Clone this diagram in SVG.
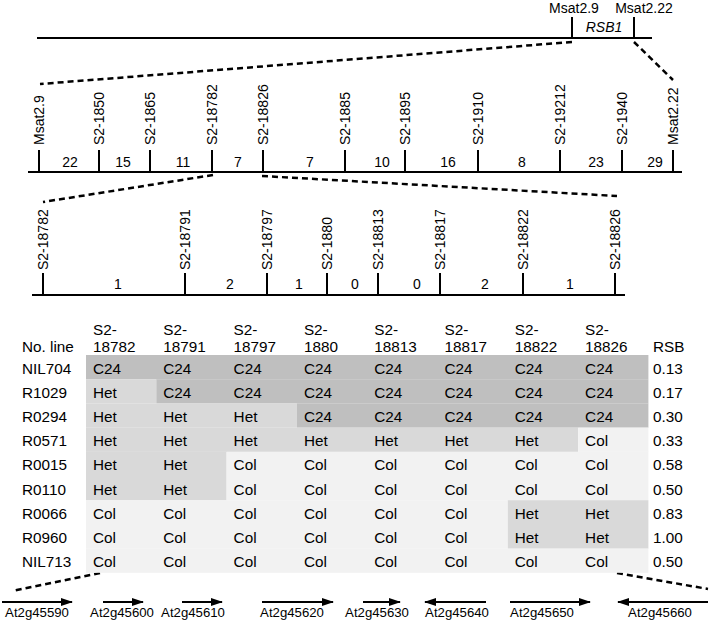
<svg xmlns="http://www.w3.org/2000/svg" width="711" height="629" viewBox="0 0 711 629">
<defs>
<style>
text{font-family:"Liberation Sans",Arial,sans-serif;fill:#000}
.lbl{font-size:14px}
.num{font-size:14px;text-anchor:middle}
.tb{font-size:15.3px}
.gene{font-size:13.2px;text-anchor:middle}
.ln{stroke:#000;stroke-width:2;fill:none}
.dash{stroke:#000;stroke-width:2.5;stroke-dasharray:6 4;fill:none}
.c24{fill:#bfbfbf}
.het{fill:#d9d9d9}
.col{fill:#f2f2f2}
.arr{stroke:#000;stroke-width:2;fill:none}
</style>
<marker id="ah" viewBox="0 0 12 8" refX="11" refY="4" markerWidth="6" markerHeight="4" orient="auto" markerUnits="strokeWidth">
<path d="M0,0 L12,4 L0,8 Z" fill="#000"/>
</marker>
</defs>
<rect width="711" height="629" fill="#fff"/>

<g id="chromosome">
<line class="ln" x1="37" y1="38" x2="652" y2="38"/>
<line class="ln" x1="572" y1="17" x2="572" y2="38"/>
<line class="ln" x1="634" y1="17" x2="634" y2="38"/>
<text class="lbl" x="574" y="13" text-anchor="middle">Msat2.9</text>
<text class="lbl" x="644" y="13" text-anchor="middle">Msat2.22</text>
<text class="lbl" x="604" y="32" text-anchor="middle" font-style="italic">RSB1</text>
</g>

<g id="map1">
<line class="ln" x1="28" y1="172" x2="682" y2="172"/>
<path class="ln" d="M39,150V172M99,150V172M150,150V172M212,150V172M263,150V172M345,150V172M405,150V172M478,150V172M560,150V172M622,150V172M673,150V172"/>
<text class="lbl" transform="translate(44,145) rotate(-90)">Msat2.9</text>
<text class="lbl" transform="translate(104,145) rotate(-90)">S2-1850</text>
<text class="lbl" transform="translate(155,145) rotate(-90)">S2-1865</text>
<text class="lbl" transform="translate(217,145) rotate(-90)">S2-18782</text>
<text class="lbl" transform="translate(268,145) rotate(-90)">S2-18826</text>
<text class="lbl" transform="translate(350,145) rotate(-90)">S2-1885</text>
<text class="lbl" transform="translate(410,145) rotate(-90)">S2-1895</text>
<text class="lbl" transform="translate(483,145) rotate(-90)">S2-1910</text>
<text class="lbl" transform="translate(565,145) rotate(-90)">S2-19212</text>
<text class="lbl" transform="translate(627,145) rotate(-90)">S2-1940</text>
<text class="lbl" transform="translate(678,145) rotate(-90)">Msat2.22</text>
<text class="num" x="70" y="167">22</text>
<text class="num" x="123" y="167">15</text>
<text class="num" x="183" y="167">11</text>
<text class="num" x="238" y="167">7</text>
<text class="num" x="310" y="167">7</text>
<text class="num" x="382" y="167">10</text>
<text class="num" x="448" y="167">16</text>
<text class="num" x="522" y="167">8</text>
<text class="num" x="596" y="167">23</text>
<text class="num" x="655" y="167">29</text>
</g>

<g id="map2">
<line class="ln" x1="32" y1="295" x2="625" y2="295"/>
<path class="ln" d="M43,273V295M185,273V295M267,273V295M327,273V295M378,273V295M440,273V295M523,273V295M615,273V295"/>
<text class="lbl" transform="translate(48,270) rotate(-90)">S2-18782</text>
<text class="lbl" transform="translate(190,270) rotate(-90)">S2-18791</text>
<text class="lbl" transform="translate(272,270) rotate(-90)">S2-18797</text>
<text class="lbl" transform="translate(332,270) rotate(-90)">S2-1880</text>
<text class="lbl" transform="translate(383,270) rotate(-90)">S2-18813</text>
<text class="lbl" transform="translate(445,270) rotate(-90)">S2-18817</text>
<text class="lbl" transform="translate(528,270) rotate(-90)">S2-18822</text>
<text class="lbl" transform="translate(620,270) rotate(-90)">S2-18826</text>
<text class="num" x="118" y="289">1</text>
<text class="num" x="230" y="289">2</text>
<text class="num" x="299" y="289">1</text>
<text class="num" x="355" y="289">0</text>
<text class="num" x="417" y="289">0</text>
<text class="num" x="485" y="289">2</text>
<text class="num" x="570" y="289">1</text>
</g>

<g id="connectors">
<line class="dash" x1="572" y1="42" x2="40" y2="84"/>
<line class="dash" x1="634" y1="42" x2="673" y2="80"/>
<line class="dash" x1="213" y1="175" x2="43" y2="202"/>
<line class="dash" x1="262" y1="176" x2="617" y2="196"/>
<line class="dash" x1="100" y1="573" x2="12" y2="591"/>
<line class="dash" x1="617" y1="573" x2="708" y2="589"/>
</g>

<g id="table">
<g id="shading">
<rect class="c24" x="86" y="355" width="562.4" height="24.3"/>
<rect class="het" x="86" y="379.2" width="70.3" height="24.3"/>
<rect class="c24" x="156.3" y="379.2" width="492.1" height="24.3"/>
<rect class="het" x="86" y="403.4" width="210.9" height="24.3"/>
<rect class="c24" x="296.9" y="403.4" width="351.5" height="24.3"/>
<rect class="het" x="86" y="427.6" width="492.1" height="24.3"/>
<rect class="col" x="578.1" y="427.6" width="70.3" height="24.3"/>
<rect class="het" x="86" y="451.8" width="140.6" height="48.5"/>
<rect class="col" x="226.6" y="451.8" width="421.8" height="48.5"/>
<rect class="col" x="86" y="500.2" width="421.8" height="48.5"/>
<rect class="het" x="507.8" y="500.2" width="140.6" height="48.5"/>
<rect class="col" x="86" y="548.6" width="562.4" height="24.2"/>
</g>
<g id="header" class="tb">
<text class="tb" x="22" y="352">No. line</text>
<text class="tb" x="93" y="335">S2-</text><text class="tb" x="93" y="352">18782</text>
<text class="tb" x="163.3" y="335">S2-</text><text class="tb" x="163.3" y="352">18791</text>
<text class="tb" x="233.6" y="335">S2-</text><text class="tb" x="233.6" y="352">18797</text>
<text class="tb" x="303.9" y="335">S2-</text><text class="tb" x="303.9" y="352">1880</text>
<text class="tb" x="374.2" y="335">S2-</text><text class="tb" x="374.2" y="352">18813</text>
<text class="tb" x="444.5" y="335">S2-</text><text class="tb" x="444.5" y="352">18817</text>
<text class="tb" x="514.8" y="335">S2-</text><text class="tb" x="514.8" y="352">18822</text>
<text class="tb" x="585.1" y="335">S2-</text><text class="tb" x="585.1" y="352">18826</text>
<text class="tb" x="653" y="352">RSB</text>
</g>
<g id="row-NIL704">
<text class="tb" x="22" y="373.5">NIL704</text>
<text class="tb" x="93" y="373.5">C24</text><text class="tb" x="163.3" y="373.5">C24</text><text class="tb" x="233.6" y="373.5">C24</text><text class="tb" x="303.9" y="373.5">C24</text><text class="tb" x="374.2" y="373.5">C24</text><text class="tb" x="444.5" y="373.5">C24</text><text class="tb" x="514.8" y="373.5">C24</text><text class="tb" x="585.1" y="373.5">C24</text>
<text class="tb" x="653" y="373.5">0.13</text>
</g>
<g id="row-R1029">
<text class="tb" x="22" y="397.7">R1029</text>
<text class="tb" x="93" y="397.7">Het</text><text class="tb" x="163.3" y="397.7">C24</text><text class="tb" x="233.6" y="397.7">C24</text><text class="tb" x="303.9" y="397.7">C24</text><text class="tb" x="374.2" y="397.7">C24</text><text class="tb" x="444.5" y="397.7">C24</text><text class="tb" x="514.8" y="397.7">C24</text><text class="tb" x="585.1" y="397.7">C24</text>
<text class="tb" x="653" y="397.7">0.17</text>
</g>
<g id="row-R0294">
<text class="tb" x="22" y="421.9">R0294</text>
<text class="tb" x="93" y="421.9">Het</text><text class="tb" x="163.3" y="421.9">Het</text><text class="tb" x="233.6" y="421.9">Het</text><text class="tb" x="303.9" y="421.9">C24</text><text class="tb" x="374.2" y="421.9">C24</text><text class="tb" x="444.5" y="421.9">C24</text><text class="tb" x="514.8" y="421.9">C24</text><text class="tb" x="585.1" y="421.9">C24</text>
<text class="tb" x="653" y="421.9">0.30</text>
</g>
<g id="row-R0571">
<text class="tb" x="22" y="446.1">R0571</text>
<text class="tb" x="93" y="446.1">Het</text><text class="tb" x="163.3" y="446.1">Het</text><text class="tb" x="233.6" y="446.1">Het</text><text class="tb" x="303.9" y="446.1">Het</text><text class="tb" x="374.2" y="446.1">Het</text><text class="tb" x="444.5" y="446.1">Het</text><text class="tb" x="514.8" y="446.1">Het</text><text class="tb" x="585.1" y="446.1">Col</text>
<text class="tb" x="653" y="446.1">0.33</text>
</g>
<g id="row-R0015">
<text class="tb" x="22" y="470.3">R0015</text>
<text class="tb" x="93" y="470.3">Het</text><text class="tb" x="163.3" y="470.3">Het</text><text class="tb" x="233.6" y="470.3">Col</text><text class="tb" x="303.9" y="470.3">Col</text><text class="tb" x="374.2" y="470.3">Col</text><text class="tb" x="444.5" y="470.3">Col</text><text class="tb" x="514.8" y="470.3">Col</text><text class="tb" x="585.1" y="470.3">Col</text>
<text class="tb" x="653" y="470.3">0.58</text>
</g>
<g id="row-R0110">
<text class="tb" x="22" y="494.5">R0110</text>
<text class="tb" x="93" y="494.5">Het</text><text class="tb" x="163.3" y="494.5">Het</text><text class="tb" x="233.6" y="494.5">Col</text><text class="tb" x="303.9" y="494.5">Col</text><text class="tb" x="374.2" y="494.5">Col</text><text class="tb" x="444.5" y="494.5">Col</text><text class="tb" x="514.8" y="494.5">Col</text><text class="tb" x="585.1" y="494.5">Col</text>
<text class="tb" x="653" y="494.5">0.50</text>
</g>
<g id="row-R0066">
<text class="tb" x="22" y="518.7">R0066</text>
<text class="tb" x="93" y="518.7">Col</text><text class="tb" x="163.3" y="518.7">Col</text><text class="tb" x="233.6" y="518.7">Col</text><text class="tb" x="303.9" y="518.7">Col</text><text class="tb" x="374.2" y="518.7">Col</text><text class="tb" x="444.5" y="518.7">Col</text><text class="tb" x="514.8" y="518.7">Het</text><text class="tb" x="585.1" y="518.7">Het</text>
<text class="tb" x="653" y="518.7">0.83</text>
</g>
<g id="row-R0960">
<text class="tb" x="22" y="542.9">R0960</text>
<text class="tb" x="93" y="542.9">Col</text><text class="tb" x="163.3" y="542.9">Col</text><text class="tb" x="233.6" y="542.9">Col</text><text class="tb" x="303.9" y="542.9">Col</text><text class="tb" x="374.2" y="542.9">Col</text><text class="tb" x="444.5" y="542.9">Col</text><text class="tb" x="514.8" y="542.9">Het</text><text class="tb" x="585.1" y="542.9">Het</text>
<text class="tb" x="653" y="542.9">1.00</text>
</g>
<g id="row-NIL713">
<text class="tb" x="22" y="567.1">NIL713</text>
<text class="tb" x="93" y="567.1">Col</text><text class="tb" x="163.3" y="567.1">Col</text><text class="tb" x="233.6" y="567.1">Col</text><text class="tb" x="303.9" y="567.1">Col</text><text class="tb" x="374.2" y="567.1">Col</text><text class="tb" x="444.5" y="567.1">Col</text><text class="tb" x="514.8" y="567.1">Col</text><text class="tb" x="585.1" y="567.1">Col</text>
<text class="tb" x="653" y="567.1">0.50</text>
</g>
</g>

<g id="genes">
<g id="At2g45590"><line class="arr" x1="2" y1="602" x2="72" y2="602" marker-end="url(#ah)"/><text class="gene" x="37" y="617">At2g45590</text></g>
<g id="At2g45600"><line class="arr" x1="103" y1="602" x2="143" y2="602" marker-end="url(#ah)"/><text class="gene" x="122" y="617">At2g45600</text></g>
<g id="At2g45610"><line class="arr" x1="182" y1="602" x2="222" y2="602" marker-end="url(#ah)"/><text class="gene" x="193" y="617">At2g45610</text></g>
<g id="At2g45620"><line class="arr" x1="262" y1="602" x2="333" y2="602" marker-end="url(#ah)"/><text class="gene" x="292" y="617">At2g45620</text></g>
<g id="At2g45630"><line class="arr" x1="363" y1="602" x2="400" y2="602" marker-end="url(#ah)"/><text class="gene" x="377" y="617">At2g45630</text></g>
<g id="At2g45640"><line class="arr" x1="486" y1="602" x2="425" y2="602" marker-end="url(#ah)"/><text class="gene" x="457" y="617">At2g45640</text></g>
<g id="At2g45650"><line class="arr" x1="510" y1="602" x2="590" y2="602" marker-end="url(#ah)"/><text class="gene" x="542" y="617">At2g45650</text></g>
<g id="At2g45660"><line class="arr" x1="708" y1="602" x2="618" y2="602" marker-end="url(#ah)"/><text class="gene" x="660" y="617">At2g45660</text></g>
</g>
</svg>
